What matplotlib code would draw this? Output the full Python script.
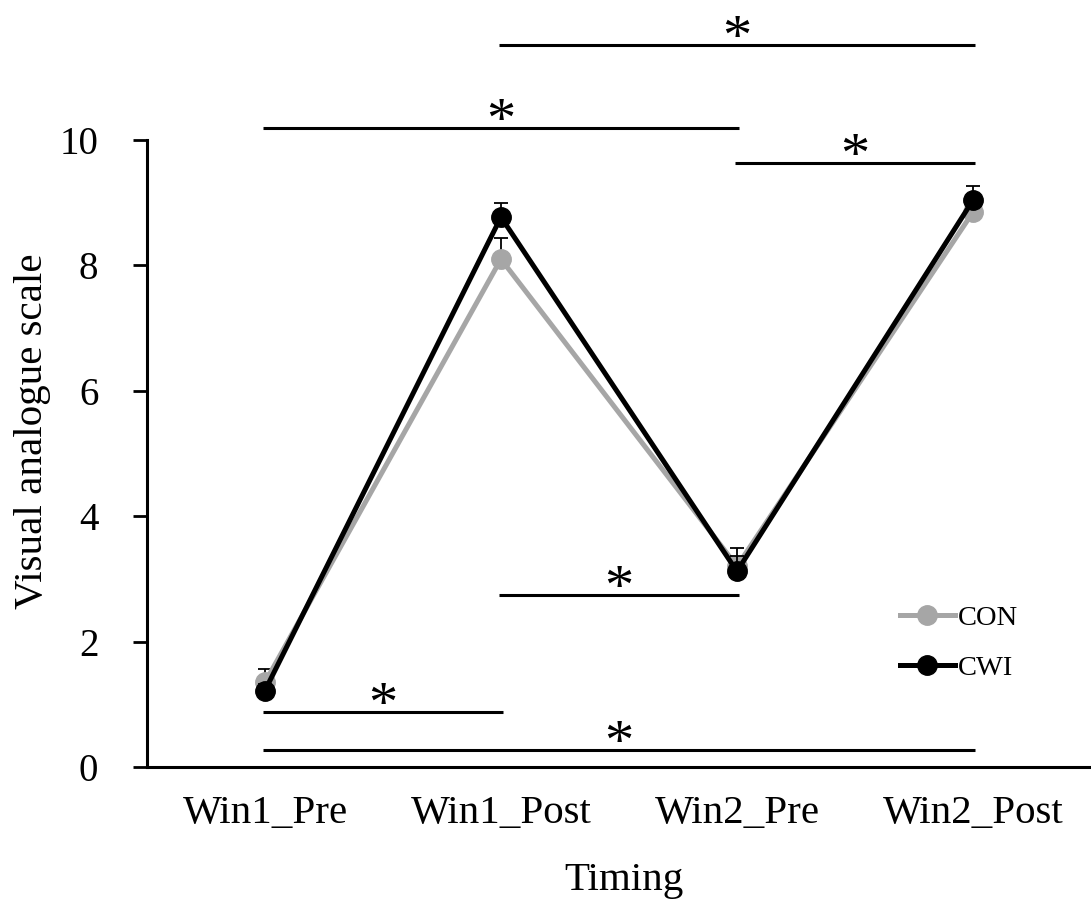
import matplotlib
matplotlib.use("Agg")
import matplotlib.pyplot as plt
import numpy as np

plt.rcParams['font.family'] = ['Liberation Serif', 'DejaVu Serif']

timings = ["Win1_Pre", "Win1_Post", "Win2_Pre", "Win2_Post"]
con_mean = [1.35, 8.10, 3.20, 8.85]
con_err = [0.22, 0.33, 0.30, 0.20]
cwi_mean = [1.22, 8.77, 3.12, 9.04]
cwi_err = [0.10, 0.22, 0.25, 0.22]

# significance brackets: (from index, to index, height on the VAS axis)
sig_from = [1, 0, 2, 1, 0, 0]
sig_to = [3, 2, 3, 2, 1, 3]
sig_level = [11.52, 10.19, 9.63, 2.74, 0.88, 0.27]

fig = plt.figure(figsize=(10.91, 9.09), dpi=100)
ax = fig.add_axes([0.1347, 0.1562, 0.8653, 0.6898])

x = np.arange(len(timings))
grey = "#A6A6A6"

ax.errorbar(x, con_mean, yerr=[np.zeros(4), con_err], ecolor="black",
            elinewidth=1.3, capsize=5, capthick=1.3, zorder=2, fmt='none')
ax.plot(x, con_mean, color=grey, lw=3.6, marker='o', ms=14, label="CON", zorder=3)
ax.errorbar(x, cwi_mean, yerr=[np.zeros(4), cwi_err], ecolor="black",
            elinewidth=1.3, capsize=5, capthick=1.3, zorder=4, fmt='none')
ax.plot(x, cwi_mean, color="black", lw=3.6, marker='o', ms=14, label="CWI", zorder=5)

for a, b, lev in zip(sig_from, sig_to, sig_level):
    ax.plot([a - 0.01, b + 0.01], [lev, lev], color="black", lw=2.2,
            clip_on=False, solid_capstyle='butt', zorder=1)
    ax.annotate("*", xy=((a + b) / 2, lev), xytext=(0, -6.5),
                textcoords='offset points', ha='center', va='baseline',
                fontsize=42, annotation_clip=False)

ax.set_xlim(-0.5, 3.5)
ax.set_ylim(0, 10)
ax.set_yticks([0, 2, 4, 6, 8, 10])
ax.set_xticks(x)
ax.set_xticklabels(timings)
ax.tick_params(axis='y', direction='out', length=10, width=2, labelsize=28, pad=25)
ax.tick_params(axis='x', length=0, labelsize=29.5, pad=20)

for s in ['top', 'right']:
    ax.spines[s].set_visible(False)
for s in ['left', 'bottom']:
    ax.spines[s].set_linewidth(2.2)

ax.set_ylabel("Visual analogue scale", fontsize=29.5)
ax.yaxis.set_label_coords(-0.102, 0.535)
ax.set_xlabel("Timing", fontsize=29.5)
ax.xaxis.set_label_coords(0.505, -0.152)

leg = ax.legend(loc='upper left', bbox_to_anchor=(900 / 1091, 1 - 605 / 909),
                bbox_transform=fig.transFigure, frameon=False,
                fontsize=20.5, handlelength=1.93, handletextpad=0.1,
                labelspacing=0.85, borderpad=0, borderaxespad=0)

fig.savefig("out.png", dpi=100)
